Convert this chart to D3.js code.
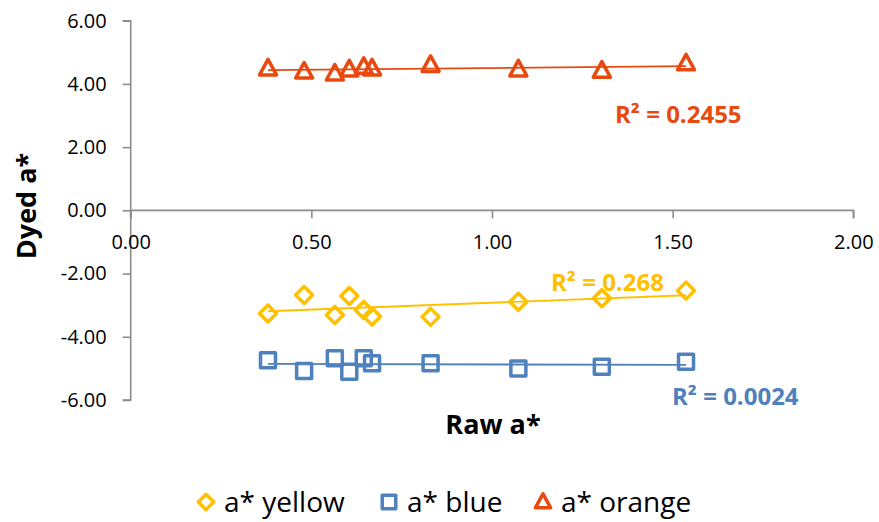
<!DOCTYPE html>
<html><head><meta charset="utf-8">
<script src="https://cdn.jsdelivr.net/npm/d3@7"></script>
<style>
body{margin:0;background:#fff;}
text{font-family:"Open Sans","Noto Sans",sans-serif;}
</style></head>
<body><svg id="chart" width="879" height="522"></svg>
<script>
const rawX = [0.38, 0.48, 0.565, 0.605, 0.645, 0.668, 0.83, 1.073, 1.304, 1.537];
const yellowY = [-3.26, -2.68, -3.31, -2.71, -3.15, -3.36, -3.37, -2.89, -2.78, -2.54];
const blueY = [-4.74, -5.08, -4.68, -5.11, -4.68, -4.84, -4.84, -5.00, -4.95, -4.79];
const orangeY = [4.49, 4.39, 4.33, 4.46, 4.54, 4.49, 4.60, 4.46, 4.42, 4.65];
const seriesNames = ["a* yellow", "a* blue", "a* orange"];
const r2Labels = ["R² = 0.268", "R² = 0.0024", "R² = 0.2455"];
const xTicks = [0, 0.5, 1, 1.5, 2];
const yTicks = [-6, -4, -2, 0, 2, 4, 6];

const colors = ["#FFC000", "#4F81BD", "#E8490F"];
const shapes = ["diamond", "square", "triangle"];
const series = [yellowY, blueY, orangeY].map((ys, i) => ({
  name: seriesNames[i], color: colors[i], shape: shapes[i], r2: r2Labels[i],
  pts: rawX.map((x, j) => ({x, y: ys[j]}))
}));

const svg = d3.select("#chart");
const x = d3.scaleLinear().domain([0, 2]).range([130.7, 853.3]);
const y = d3.scaleLinear().domain([-6, 6]).range([400, 20.7]);
const axisColor = "#8c8c8c";
const fmt = d => d3.format(".2f")(d).replace("\u2212", "-");

// y axis
const gy = svg.append("g").attr("transform", `translate(${x(0)},0)`)
  .call(d3.axisLeft(y).tickValues(yTicks).tickSize(8).tickPadding(16).tickFormat(fmt));
gy.select(".domain").attr("stroke", axisColor).attr("stroke-width", 1.6).attr("d", `M-8,${y(6)}H0V${y(-6)}H-8`);
gy.selectAll(".tick line").attr("stroke", axisColor).attr("stroke-width", 1.6);
gy.selectAll(".tick text").attr("font-size", 20).attr("fill", "#000").attr("font-family", "Open Sans");

// x axis at y=0
const gx = svg.append("g").attr("transform", `translate(0,${y(0)})`)
  .call(d3.axisBottom(x).tickValues(xTicks).tickSize(8).tickPadding(16).tickFormat(fmt));
gx.select(".domain").attr("stroke", axisColor).attr("stroke-width", 1.6).attr("d", `M${x(0)},8V0H${x(2)}V8`);
gx.selectAll(".tick line").attr("stroke", axisColor).attr("stroke-width", 1.6);
gx.selectAll(".tick text").attr("font-size", 20).attr("fill", "#000").attr("font-family", "Open Sans");

// axis titles
svg.append("text").attr("transform", `translate(36,206) rotate(-90)`).attr("text-anchor", "middle")
  .attr("font-size", 27).attr("font-weight", "bold").text("Dyed a*");
svg.append("text").attr("x", 493).attr("y", 434).attr("text-anchor", "middle")
  .attr("font-size", 27).attr("font-weight", "bold").text("Raw a*");

function shapePath(shape, k = 1) {
  if (shape === "diamond") return `M0,${-8.5*k}L${8.5*k},0L0,${8.5*k}L${-8.5*k},0Z`;
  if (shape === "square") return `M${-7.5*k},${-7.5*k}H${7.5*k}V${7.5*k}H${-7.5*k}Z`;
  return `M0,${-9*k}L${8.5*k},${6.5*k}H${-8.5*k}Z`;
}

// trendlines (least squares fit)
series.forEach(s => {
  const mx = d3.mean(s.pts, d => d.x), my = d3.mean(s.pts, d => d.y);
  const b = d3.sum(s.pts, d => (d.x - mx) * (d.y - my)) / d3.sum(s.pts, d => (d.x - mx) ** 2);
  const a = my - b * mx;
  const x0 = d3.min(rawX), x1 = d3.max(rawX);
  svg.append("line").attr("x1", x(x0)).attr("y1", y(a + b * x0)).attr("x2", x(x1)).attr("y2", y(a + b * x1))
    .attr("stroke", s.color).attr("stroke-width", 1.8);
});

// markers
series.forEach(s => {
  svg.append("g").selectAll("path").data(s.pts).join("path")
    .attr("transform", d => `translate(${x(d.x)},${y(d.y)})`)
    .attr("d", shapePath(s.shape)).attr("fill", "none").attr("stroke", s.color)
    .attr("stroke-width", 3.5).attr("stroke-linejoin", "round");
});

// R² labels
const labelPos = [[551, 291], [672, 405], [615, 123]];
series.forEach((s, i) => {
  svg.append("text").attr("x", labelPos[i][0]).attr("y", labelPos[i][1])
    .attr("font-size", 24).attr("font-weight", "bold").attr("fill", s.color).text(s.r2);
});

// legend
const legX = [206, 389, 543];
series.forEach((s, i) => {
  svg.append("path").attr("transform", `translate(${legX[i]},502)`).attr("d", shapePath(s.shape, 0.9))
    .attr("fill", "none").attr("stroke", s.color).attr("stroke-width", 3.5).attr("stroke-linejoin", "round");
  svg.append("text").attr("x", legX[i] + 18).attr("y", 512).attr("font-size", 28).attr("fill", "#000").text(s.name);
});
</script></body></html>
